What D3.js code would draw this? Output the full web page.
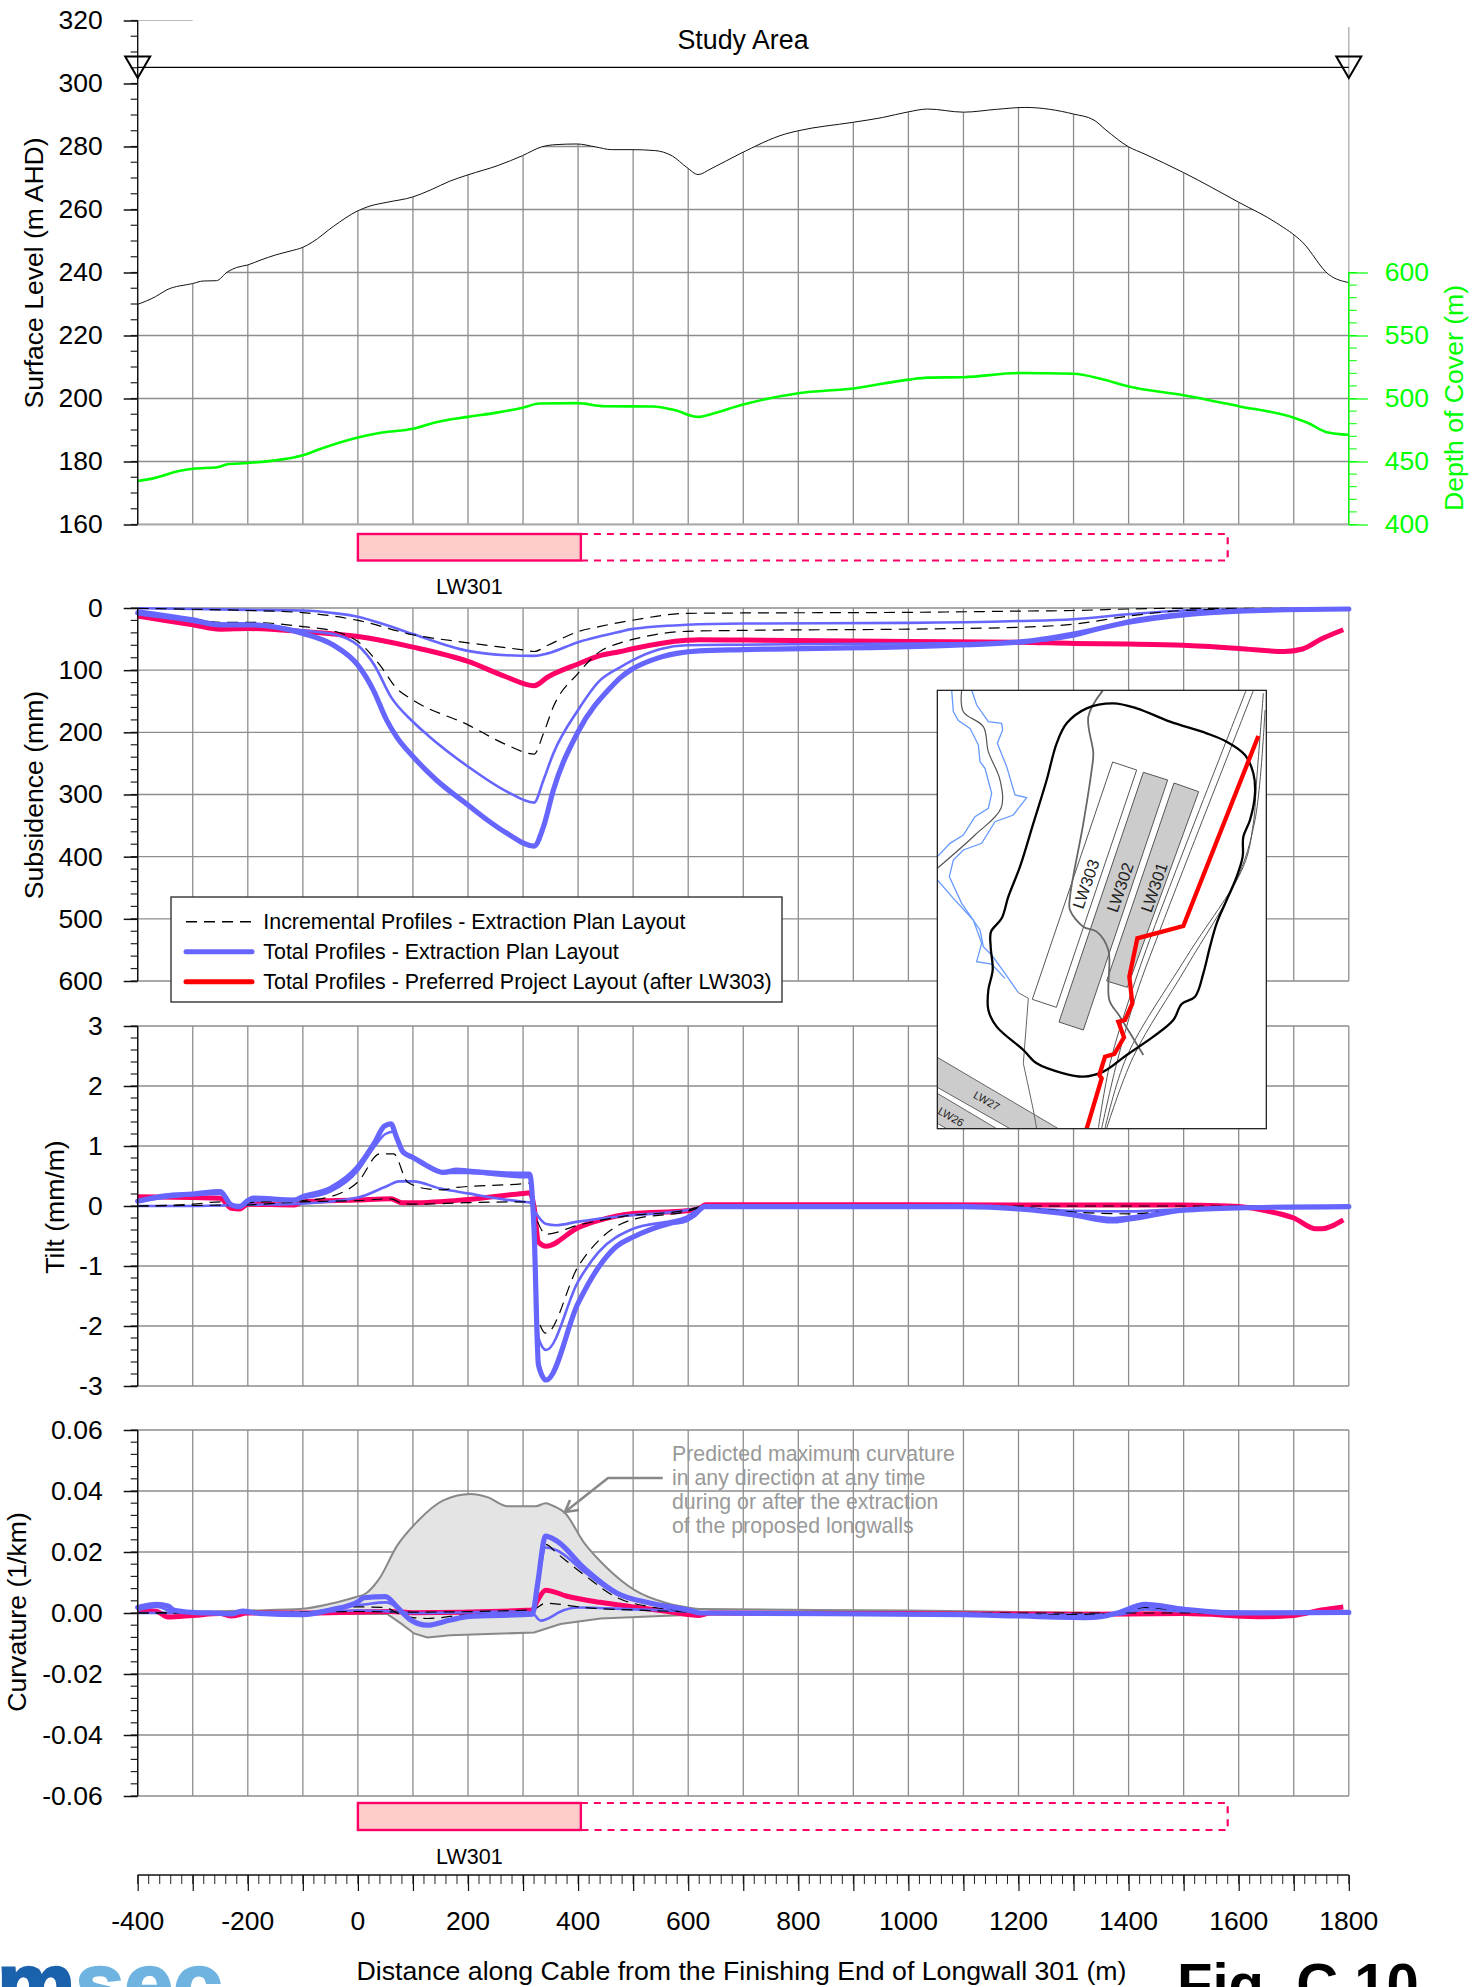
<!DOCTYPE html>
<html><head><meta charset="utf-8">
<script src="https://cdn.jsdelivr.net/npm/d3@7/dist/d3.min.js"></script>
<style>html,body{margin:0;padding:0;background:#fff;overflow:hidden}svg{display:block}text{font-family:"Liberation Sans",Arial,sans-serif}</style>
</head><body><svg id="c" width="1484" height="1987"></svg>
<script>
// ---------- Tick values ----------
const distanceTicks=[-400,-300,-200,-100,0,100,200,300,400,500,600,700,800,900,1000,1100,1200,1300,1400,1500,1600,1700,1800];
const distanceLabels=[-400,-200,0,200,400,600,800,1000,1200,1400,1600,1800];
const levelTicks=[160,180,200,220,240,260,280,300,320];
const coverTicks=[400,450,500,550,600];
const subsidenceTicks=[0,100,200,300,400,500,600];
const tiltTicks=[-3,-2,-1,0,1,2,3];
const curvatureTicks=[-0.06,-0.04,-0.02,0,0.02,0.04,0.06];
const legendLabels=["Incremental Profiles - Extraction Plan Layout","Total Profiles - Extraction Plan Layout","Total Profiles - Preferred Project Layout (after LW303)"];
const noteLines=["Predicted maximum curvature","in any direction at any time","during or after the extraction","of the proposed longwalls"];

// ---------- Surface panel ----------
const surfaceLevel=[[-400,229.9],[-368,232.3],[-347,234.5],[-300,236.5],[-281,237.3],[-257,237.4],[-237,240.2],[-220,241.6],[-200,242.4],[-176,244],[-149,245.6],[-123,246.8],[-100,248],[-83,249.6],[-44,254.7],[0,259.6],[22,261.1],[53,262.3],[100,264],[132,266.2],[167,269],[200,271],[255,274],[299,277.1],[334,279.9],[360,280.6],[398,280.8],[431,279.9],[461,279],[498,279],[540,278.7],[571,277],[598,273.3],[618,271.1],[641,272.9],[694,277.7],[777,284],[800,285],[900,287.7],[953,289.2],[1000,291],[1035,291.9],[1100,290.9],[1160,291.8],[1212,292.4],[1300,290.3],[1337,288.4],[1359,285.2],[1400,279.9],[1428,277.7],[1500,271.7],[1600,262.3],[1669,255.7],[1716,249.6],[1764,239.3],[1800,236.8]];
const depthOfCover=[[-400,434.5],[-368,437],[-325,442.4],[-300,444.2],[-255,445.4],[-237,447.8],[-200,448.8],[-100,455],[-70,459.7],[0,469],[44,473],[100,476],[140,481],[200,485.4],[255,489],[299,492.7],[330,496],[398,496.3],[448,493.9],[536,493.6],[575,490.8],[618,485.4],[641,487.5],[698,495],[800,504.2],[900,508],[1000,515],[1035,516.6],[1100,516.9],[1200,520.2],[1300,519.6],[1349,515.7],[1400,509.6],[1500,502.6],[1600,493.9],[1700,484.8],[1725,480.8],[1760,473.3],[1800,471.2]];
const panelLW301=[0,405];
const panelLW301Planned=[405,1580];

// ---------- Subsidence (mm) ----------
const subIncShallow=[[-400,0.5],[-300,2],[-200,4],[-100,7.5],[0,20],[100,43],[200,56],[300,67.5],[320,70],[345,60],[400,38],[438,30],[477,23],[497,20],[597,8.6],[700,8],[1000,7],[1200,5],[1300,4],[1400,1.6],[1500,0.5],[1800,0.5]];
const subIncDeep=[[-400,7.5],[-300,18],[-250,23],[-200,23],[-100,30],[-40,38],[0,54],[40,92],[70,129],[100,148],[200,188],[270,220],[320,235],[337,202],[355,159],[400,105],[438,71],[477,56],[497,51],[597,37.5],[700,36],[1000,34],[1200,31],[1300,26],[1400,13],[1500,4],[1600,2],[1800,1]];
const subTotalStage1=[[-400,0.5],[-300,1.5],[-200,3],[-100,4],[-40,8.6],[0,14],[50,27],[100,42],[200,69],[270,76],[320,77],[345,73],[400,55],[438,46],[477,38],[497,34],[597,27],[700,25],[1000,24],[1200,21],[1300,18],[1400,10],[1500,4],[1600,2.5],[1800,1.6]];
const subTotalStage2=[[-400,4],[-300,17],[-250,25],[-200,25],[-100,36],[-40,43],[0,60],[30,92],[60,143],[100,183],[130,207],[200,255],[270,295],[320,313],[337,277],[355,234],[400,164],[438,118],[477,95],[497,85],[550,66],[597,60],[700,59],[1000,57],[1200,55],[1300,46],[1400,20],[1500,8.6],[1600,4],[1800,1.6]];
const subTotalFinal=[[-400,8],[-300,20],[-250,27],[-200,27],[-100,41],[-44,60],[0,92],[28,132],[52,180],[70,207],[100,239],[143,277],[200,317],[235,341],[270,362],[320,383],[337,352],[355,293],[400,199],[460,127],[477,112],[497,99],[550,79],[620,69],[700,67],[1000,62],[1200,55],[1300,42],[1400,23],[1500,11],[1600,5],[1800,1.6]];
const subPreferred=[[-400,13],[-300,27],[-250,34],[-200,33],[-100,38],[0,46],[100,63],[200,86],[270,111],[320,125],[345,111],[400,90],[438,77],[477,70],[497,66],[597,52],[620,51],[700,51.5],[1000,54],[1200,55],[1300,57],[1400,58],[1500,60],[1600,65],[1683,70],[1716,66],[1750,50],[1790,35]];

// ---------- Tilt (mm/m) ----------
const tiltIncShallow=[[-400,0],[-300,0.01],[-200,0.02],[-100,0.07],[0,0.09],[60,0.12],[80,0.045],[100,0.03],[200,0.055],[300,0.07],[312,0.07],[320,-0.12],[342,-0.47],[400,-0.32],[477,-0.18],[597,-0.07],[632,0],[1100,0],[1200,0],[1800,0]];
const tiltIncDeep=[[-400,0],[-300,0.03],[-250,0.07],[-230,-0.01],[-215,-0.03],[-200,0.055],[-100,0.09],[-50,0.155],[0,0.4],[40,0.87],[65,0.87],[90,0.4],[130,0.28],[155,0.27],[180,0.31],[300,0.37],[312,0.38],[320,-0.12],[328,-1.9],[342,-2.12],[400,-1.01],[438,-0.57],[497,-0.23],[597,-0.09],[620,-0.03],[632,0],[1100,-0.01],[1200,-0.02],[1300,-0.1],[1400,-0.13],[1500,-0.06],[1600,-0.02],[1800,-0.01]];
const tiltTotalStage1=[[-400,0],[-300,0],[-200,0.02],[-100,0.04],[0,0.14],[50,0.32],[75,0.41],[100,0.41],[150,0.29],[200,0.21],[300,0.07],[312,0.06],[320,-0.07],[342,-0.3],[360,-0.32],[400,-0.26],[477,-0.17],[597,-0.07],[620,-0.03],[632,0],[1100,-0.01],[1200,-0.03],[1300,-0.08],[1400,-0.09],[1500,-0.05],[1600,-0.03],[1800,-0.01]];
const tiltTotalStage2=[[-400,0.08],[-300,0.18],[-250,0.2],[-230,0],[-215,-0.02],[-200,0.07],[-100,0.13],[-50,0.24],[0,0.59],[30,0.99],[50,1.2],[65,1.24],[82,0.9],[100,0.8],[155,0.55],[200,0.55],[300,0.48],[312,0.48],[320,-0.3],[328,-2.2],[342,-2.4],[400,-1.26],[438,-0.76],[497,-0.39],[597,-0.18],[611,-0.1],[630,-0.01],[1100,-0.01],[1200,-0.04],[1300,-0.12],[1370,-0.2],[1400,-0.18],[1500,-0.06],[1600,-0.03],[1800,-0.01]];
const tiltTotalFinal=[[-400,0.08],[-350,0.17],[-300,0.2],[-250,0.24],[-230,0.02],[-215,-0.01],[-200,0.09],[-190,0.13],[-115,0.1],[-100,0.155],[-50,0.29],[0,0.65],[30,1.05],[48,1.33],[60,1.37],[70,1.15],[82,0.9],[100,0.81],[130,0.65],[155,0.56],[180,0.6],[200,0.58],[300,0.53],[312,0.53],[320,-0.4],[328,-2.65],[342,-2.9],[400,-1.62],[438,-1.01],[469,-0.68],[497,-0.53],[566,-0.29],[597,-0.23],[611,-0.15],[630,-0.01],[1100,-0.01],[1200,-0.05],[1300,-0.15],[1370,-0.25],[1400,-0.22],[1500,-0.07],[1600,-0.03],[1800,-0.01]];
const tiltPreferred=[[-400,0.155],[-300,0.14],[-250,0.13],[-230,-0.04],[-215,-0.05],[-200,0.03],[-115,0.017],[-100,0.07],[0,0.1],[60,0.12],[80,0.055],[100,0.055],[200,0.11],[300,0.21],[312,0.22],[320,-0.01],[328,-0.6],[342,-0.67],[400,-0.36],[438,-0.24],[497,-0.13],[597,-0.08],[620,-0.04],[632,0.02],[1000,0.02],[1500,0.015],[1550,0.01],[1600,-0.01],[1650,-0.08],[1700,-0.2],[1740,-0.38],[1750,-0.38],[1790,-0.23]];

// ---------- Curvature (1/km) ----------
const envelopeUpper=[[-400,0],[-300,0.0003],[-200,0.0008],[-100,0.0014],[-50,0.003],[0,0.0054],[11,0.006],[38,0.011],[71,0.022],[108,0.03],[156,0.037],[205,0.039],[235,0.038],[272,0.035],[323,0.035],[341,0.036],[356,0.035],[375,0.033],[411,0.023],[453,0.0147],[502,0.0076],[562,0.0032],[600,0.0018],[623,0.0013],[1000,0.0008],[1200,0.0003],[1350,0]];
const envelopeLower=[[-400,0],[-104,-0.0003],[53,-0.0003],[78,-0.0034],[102,-0.0067],[126,-0.008],[168,-0.0073],[320,-0.0064],[368,-0.0036],[441,-0.0018],[562,-0.0009],[623,-0.0005],[1350,0]];
const curvIncShallow=[[-400,0],[-100,0.0002],[0,0.0005],[100,0.0003],[317,0.001],[341,0.0032],[411,0.0018],[532,0.0008],[700,0],[1800,0]];
const curvIncDeep=[[-400,0],[-100,0.0002],[0,0.002],[50,0.0018],[71,0],[100,-0.0015],[126,-0.0018],[200,-0.0005],[317,0],[326,0.006],[341,0.0225],[362,0.0195],[411,0.0125],[471,0.005],[532,0.002],[600,0.0006],[623,0],[1300,-0.0005],[1380,0],[1430,0.0018],[1500,0.0008],[1800,0]];
const curvTotalStage1=[[-400,0],[-100,0.0002],[0,0.0008],[50,0.0006],[100,0],[300,0.0005],[317,0],[332,-0.0025],[375,0.001],[399,0.0018],[500,0.0012],[600,0.0005],[623,0],[1300,-0.0005],[1380,-0.0005],[1430,0.0012],[1500,0.0005],[1800,0]];
const curvTotalStage2=[[-400,0.001],[-365,0.002],[-335,0.0005],[-200,0],[-104,0],[-44,0.0015],[11,0.0028],[50,0.0035],[71,0.002],[96,-0.002],[126,-0.0038],[199,-0.0012],[317,-0.0004],[326,0.008],[341,0.0215],[362,0.0205],[411,0.0135],[471,0.006],[532,0.003],[600,0.001],[623,0],[1300,-0.001],[1350,-0.001],[1380,0],[1430,0.002],[1500,0.001],[1800,0]];
const curvTotalFinal=[[-400,0.0018],[-365,0.0028],[-345,0.0023],[-335,0.001],[-300,0.0002],[-250,-0.0001],[-230,-0.0003],[-210,0.0006],[-180,-0.0001],[-100,-0.0005],[-50,0.001],[0,0.0037],[11,0.005],[50,0.0054],[71,0.002],[96,-0.0023],[126,-0.004],[168,-0.0023],[199,-0.0012],[317,-0.0004],[326,0.009],[341,0.0252],[362,0.0235],[411,0.0147],[471,0.0065],[532,0.0032],[600,0.001],[623,0],[1100,-0.0005],[1320,-0.0015],[1350,-0.0012],[1380,0],[1430,0.0028],[1500,0.0012],[1600,0],[1800,0.0002]];
const curvPreferred=[[-400,0.001],[-365,0.0005],[-345,-0.0013],[-300,-0.0008],[-250,-0.0002],[-230,-0.001],[-200,0],[-100,0],[0,0.0003],[60,0.0005],[100,0.0001],[317,0.001],[326,0.004],[341,0.0075],[380,0.0055],[440,0.0035],[500,0.002],[560,0.0006],[600,-0.0005],[620,-0.0008],[640,0],[1000,-0.0002],[1300,-0.0004],[1500,-0.0002],[1650,-0.0012],[1700,-0.0008],[1750,0.001],[1790,0.002]];

// ---------- Location map (map units) ----------
const mapBoundary=[[580,70],[650,85],[750,125],[860,160],[920,185],[975,225],[1000,280],[1005,340],[990,420],[970,470],[968,530],[950,590],[920,660],[890,730],[870,800],[850,880],[825,950],[785,972],[760,1020],[700,1070],[620,1125],[550,1175],[490,1190],[430,1180],[350,1150],[310,1110],[230,1040],[205,990],[205,930],[218,870],[212,800],[213,755],[245,715],[265,650],[300,560],[340,430],[380,300],[410,190],[440,130],[500,85]];
const mapRiverA=[[95,30],[100,95],[115,122],[150,145],[175,195],[180,245],[195,265],[215,340],[205,385],[165,410],[130,465],[90,490],[52,530]];
const mapRiverB=[[155,30],[170,75],[205,125],[245,130],[248,150],[232,190],[260,260],[285,345],[320,353],[280,405],[225,425],[185,490],[130,510],[100,540],[88,590],[125,670],[180,750],[190,800],[215,825],[255,880],[295,938]];
const mapRiverC=[[52,600],[100,655],[160,720],[185,790],[170,845],[215,852],[255,895]];
const mapCreek=[[125,30],[130,95],[190,140],[205,215],[240,300],[243,385],[165,465],[52,565]];
const mapStream=[[295,938],[325,955],[320,1020],[310,1150],[340,1290],[350,1346]];
const mapRoad=[[548,32],[505,110],[520,220],[515,270],[490,430],[450,650],[450,690],[490,740],[530,755],[565,810],[568,960],[600,1010],[670,1125]];
const mapRailA=[[978,32],[700,750],[630,950],[570,1150],[535,1345]];
const mapRailB=[[1000,32],[720,750],[650,940],[590,1150],[545,1345]];
const mapRailC=[[1035,90],[1005,420],[950,600],[800,860],[640,1130],[560,1345]];
const mapRailD=[[1030,40],[1010,300],[1000,430],[970,560],[800,830],[620,1130],[555,1345]];
const mapLW303=[[578,246],[650,270],[409,982],[337,958]];
const mapLW302=[[670,277],[743,300],[490,1050],[417,1026]];
const mapLW301=[[762,309],[836,335],[622,922],[560,903]];
const mapLW27=[[52,1132],[415,1346],[270,1346],[52,1222]];
const mapLW26=[[52,1240],[230,1346],[80,1346],[52,1330]];
const mapCable=[[1015,168],[790,738],[652,775],[628,890],[637,970],[615,1020],[595,1025],[612,1072],[583,1122],[555,1130],[538,1185],[545,1195],[500,1346]];
const mapLabels=[["LW303",497,612,-71,16.5],["LW302",600,622,-71,16.5],["LW301",702,622,-71,16.5],["LW27",200,1262,30,11],["LW26",93,1310,30,11]];

// ---------- Drawing ----------
const svg=d3.select("#c");
const GRID="#8d8d8d",BLUE="#6666ff",PINK="#ff0066";
const x=d3.scaleLinear().domain([-400,1800]).range([137.7,1348.8]);
const yLevel=d3.scaleLinear().domain([160,320]).range([524.5,20.5]);
const yCover=d3.scaleLinear().domain([400,600]).range([524.5,272.5]);
const ySub=d3.scaleLinear().domain([0,600]).range([608,981]);
const yTilt=d3.scaleLinear().domain([-3,3]).range([1386,1026]);
const yCurv=d3.scaleLinear().domain([-0.06,0.06]).range([1796,1430]);
const fs=26.5;
const hyphen=f=>d=>f(d).replace("\u2212","-");

function leftAxis(y,ticks,minorStep,fmt,grid){
  const [a,b]=d3.extent(y.domain());
  const minors=d3.range(a,b+minorStep/2,minorStep);
  const g=svg.append("g");
  if(grid!==false){
    g.append("g").selectAll("line").data(ticks).join("line").attr("x1",x(-400)).attr("x2",x(1800)).attr("y1",y).attr("y2",y).attr("stroke",GRID).attr("stroke-width",1.3);
    g.append("g").selectAll("line").data(distanceTicks).join("line").attr("x1",x).attr("x2",x).attr("y1",y.range()[0]).attr("y2",y.range()[1]).attr("stroke",GRID).attr("stroke-width",1.3);
  }
  return {minors,draw(){
    const t=svg.append("g");
    t.append("g").selectAll("line").data(minors).join("line").attr("x1",x(-400)-7).attr("x2",x(-400)).attr("y1",y).attr("y2",y).attr("stroke","#222").attr("stroke-width",1.2);
    const ax=d3.axisLeft(y).tickValues(ticks).tickSize(14).tickPadding(20).tickFormat(fmt);
    const ag=t.append("g").attr("transform",`translate(${x(-400)},0)`).call(ax);
    ag.selectAll("path").attr("stroke","#111").attr("stroke-width",1.4).attr("d",`M0,${y.range()[0]}V${y.range()[1]}`);
    ag.selectAll("line").attr("stroke","#111").attr("stroke-width",1.5);
    ag.selectAll("text").attr("font-size",fs).attr("font-family","Liberation Sans").attr("fill","#000").attr("x",-35);
  }};
}
const line=(y)=>d3.line().x(d=>x(d[0])).y(d=>y(d[1])).curve(d3.curveMonotoneX);
function seriesSet(y,s){
  const L=line(y);
  svg.append("path").attr("d",L(s.red)).attr("fill","none").attr("stroke",PINK).attr("stroke-width",5).attr("stroke-linejoin","round");
  [s.t1,s.t2].forEach(d=>svg.append("path").attr("d",L(d)).attr("fill","none").attr("stroke",BLUE).attr("stroke-width",2.6));
  [s.i1,s.i2].forEach(d=>svg.append("path").attr("d",L(d)).attr("fill","none").attr("stroke","#000").attr("stroke-width",1.2).attr("stroke-dasharray","11,7"));
  svg.append("path").attr("d",L(s.t3)).attr("fill","none").attr("stroke",BLUE).attr("stroke-width",5.2).attr("stroke-linejoin","round").attr("stroke-linecap","round");
}
function label(t,xp,yp,o={}){
  const e=svg.append("text").attr("x",xp).attr("y",yp).attr("font-size",o.size||fs).attr("text-anchor",o.anchor||"middle").attr("dominant-baseline",o.base||"central").attr("fill",o.fill||"#000").attr("font-weight",o.weight||"normal").text(t);
  if(o.rot!=null)e.attr("transform",`rotate(${o.rot},${xp},${yp})`);
  return e;
}
function panelBar(yTop,yBottom,labelY){
  const x0=x(panelLW301[0]),x1=x(panelLW301[1]),x2=x(panelLW301Planned[1]);
  svg.append("rect").attr("x",x0).attr("y",yTop).attr("width",x1-x0).attr("height",yBottom-yTop).attr("fill","#ffcccc").attr("stroke",PINK).attr("stroke-width",2.4);
  svg.append("path").attr("d",`M${x1},${yTop}H${x2}V${yBottom}H${x1}`).attr("fill","none").attr("stroke",PINK).attr("stroke-width",2.2).attr("stroke-dasharray","7,6");
  label("LW301",(x0+x1)/2,labelY,{size:21.5});
}

// top panel: grid only below the surface line
const clipArea=d3.area().x(d=>x(d[0])).y0(524.5).y1(d=>yLevel(d[1])).curve(d3.curveMonotoneX);
svg.append("clipPath").attr("id","under").append("path").attr("d",clipArea(surfaceLevel));
const gTop=svg.append("g").attr("clip-path","url(#under)");
gTop.selectAll("line.h").data(levelTicks).join("line").attr("class","h").attr("x1",x(-400)).attr("x2",x(1800)).attr("y1",yLevel).attr("y2",yLevel).attr("stroke",GRID).attr("stroke-width",1.3);
gTop.selectAll("line.v").data(distanceTicks).join("line").attr("class","v").attr("x1",x).attr("x2",x).attr("y1",yLevel(160)).attr("y2",yLevel(320)).attr("stroke",GRID).attr("stroke-width",1.3);
svg.append("line").attr("x1",x(-400)).attr("x2",x(-300)).attr("y1",yLevel(320)).attr("y2",yLevel(320)).attr("stroke","#bbb").attr("stroke-width",1);
svg.append("line").attr("x1",x(1800)).attr("x2",x(1800)).attr("y1",27).attr("y2",yLevel(160)).attr("stroke","#aaa").attr("stroke-width",1.3);
svg.append("line").attr("x1",x(-400)).attr("x2",x(1800)).attr("y1",yLevel(160)).attr("y2",yLevel(160)).attr("stroke","#aaa").attr("stroke-width",2);
const axTop=leftAxis(yLevel,levelTicks,5,d3.format("d"),false);
svg.append("path").attr("d",line(yLevel)(surfaceLevel)).attr("fill","none").attr("stroke","#111").attr("stroke-width",1);
svg.append("path").attr("d",line(yCover)(depthOfCover)).attr("fill","none").attr("stroke","#00ff00").attr("stroke-width",2.6);
axTop.draw();

// right green axis
const gr=svg.append("g");
gr.selectAll("line.m").data(d3.range(400,601,10)).join("line").attr("x1",x(1800)).attr("x2",x(1800)+8).attr("y1",yCover).attr("y2",yCover).attr("stroke","#00ff00").attr("stroke-width",1);
const axR=gr.append("g").attr("transform",`translate(${x(1800)},0)`).call(d3.axisRight(yCover).tickValues(coverTicks).tickSize(19).tickPadding(17).tickFormat(d3.format("d")));
axR.selectAll("path").attr("stroke","#00ff00").attr("stroke-width",1.4).attr("d",`M0,${yCover(400)}V${yCover(600)}`);
axR.selectAll("line").attr("stroke","#00ff00").attr("stroke-width",1.2);
axR.selectAll("text").attr("font-size",fs).attr("font-family","Liberation Sans").attr("fill","#00ff00");

// study area markers
svg.append("line").attr("x1",x(-400)).attr("x2",x(1800)).attr("y1",67.4).attr("y2",67.4).attr("stroke","#000").attr("stroke-width",1.4);
[-400,1800].forEach(v=>svg.append("path").attr("d",d3.line()([[x(v)-12.5,56.5],[x(v)+12.5,56.5],[x(v),78]])+"Z").attr("fill","none").attr("stroke","#000").attr("stroke-width",2));
label("Study Area",743,40,{size:26.8});
panelBar(534,560.5,587);

// subsidence
const axSub=leftAxis(ySub,subsidenceTicks,20,d3.format("d"));
seriesSet(ySub,{red:subPreferred,t1:subTotalStage1,t2:subTotalStage2,t3:subTotalFinal,i1:subIncShallow,i2:subIncDeep});
axSub.draw();
// tilt
const axTilt=leftAxis(yTilt,tiltTicks,0.2,hyphen(d3.format("d")));
seriesSet(yTilt,{red:tiltPreferred,t1:tiltTotalStage1,t2:tiltTotalStage2,t3:tiltTotalFinal,i1:tiltIncShallow,i2:tiltIncDeep});
axTilt.draw();
// curvature
const axCurv=leftAxis(yCurv,curvatureTicks,0.004,hyphen(d3.format(".2f")));
svg.append("path").attr("d",d3.line().x(d=>x(d[0])).y(d=>yCurv(d[1])).curve(d3.curveMonotoneX)(envelopeUpper)+"L"+d3.line().x(d=>x(d[0])).y(d=>yCurv(d[1]))(envelopeLower.slice().reverse()).slice(1)+"Z").attr("fill","#e4e4e4").attr("stroke","#888").attr("stroke-width",2);
seriesSet(yCurv,{red:curvPreferred,t1:curvTotalStage1,t2:curvTotalStage2,t3:curvTotalFinal,i1:curvIncShallow,i2:curvIncDeep});
axCurv.draw();
panelBar(1803,1830,1857);

// note and leader
noteLines.forEach((t,i)=>label(t,672,1454+i*24,{size:21.3,anchor:"start",fill:"#999"}));
svg.append("path").attr("d","M662.7,1478H608L565,1512").attr("fill","none").attr("stroke","#888").attr("stroke-width",2.6);
svg.append("path").attr("d","M570,1500L565,1512L579,1510").attr("fill","none").attr("stroke","#888").attr("stroke-width",2.6);

// axis titles
label("Surface Level (m AHD)",34,273,{rot:-90,size:26.5});
label("Depth of Cover (m)",1454,398,{rot:-90,fill:"#00ff00",size:26.6});
label("Subsidence (mm)",34,795,{rot:-90,size:26.6});
label("Tilt (mm/m)",55,1207,{rot:-90,size:26.6});
label("Curvature (1/km)",17,1612,{rot:-90,size:26.6});

// bottom axis
const botMinor=d3.range(-400,1801,20);
svg.append("g").selectAll("line").data(botMinor).join("line").attr("x1",x).attr("x2",x).attr("y1",1875).attr("y2",1884).attr("stroke","#222").attr("stroke-width",1);
const axB=svg.append("g").attr("transform","translate(0,1875)").call(d3.axisBottom(x).tickValues(distanceTicks).tickSize(16).tickFormat(""));
axB.select("path").attr("stroke","#111").attr("stroke-width",1.5).attr("d",`M${x(-400)},0H${x(1800)}`);
axB.selectAll("line").attr("stroke","#111").attr("stroke-width",1.2);
svg.append("g").selectAll("text").data(distanceLabels).join("text").attr("x",x).attr("y",1921).attr("text-anchor","middle").attr("dominant-baseline","central").attr("font-size",fs).text(d=>d);
label("Distance along Cable from the Finishing End of Longwall 301 (m)",741.5,1971,{size:26.7});

// legend
svg.append("rect").attr("x",171).attr("y",897).attr("width",611).attr("height",105).attr("fill","#fff").attr("stroke","#333").attr("stroke-width",1.4);
const legY=[921.7,951.7,981.7];
const legStyle=[["#000",1.6,"11,7","butt"],[BLUE,5,null,"round"],["#ff0000",5,null,"round"]];
legendLabels.forEach((t,i)=>{
  svg.append("line").attr("x1",186).attr("x2",252).attr("y1",legY[i]).attr("y2",legY[i]).attr("stroke",legStyle[i][0]).attr("stroke-width",legStyle[i][1]).attr("stroke-dasharray",legStyle[i][2]).attr("stroke-linecap",legStyle[i][3]);
  label(t,263.3,legY[i],{size:21.4,anchor:"start"});
});

// location map
const mx=d3.scaleLinear().domain([0,1080]).range([920,1280]);
const my=d3.scaleLinear().domain([0,1380]).range([680,1140]);
const mL=d3.line().x(d=>mx(d[0])).y(d=>my(d[1]));
const mC=d3.line().x(d=>mx(d[0])).y(d=>my(d[1])).curve(d3.curveCatmullRom);
const mapLeft=mx(52),mapRight=mx(1039),mapTop=my(31),mapBot=my(1346);
svg.append("rect").attr("x",mapLeft).attr("y",mapTop).attr("width",mapRight-mapLeft).attr("height",mapBot-mapTop).attr("fill","#fff");
svg.append("clipPath").attr("id","mapClip").append("rect").attr("x",mapLeft).attr("y",mapTop).attr("width",mapRight-mapLeft).attr("height",mapBot-mapTop);
const gm=svg.append("g").attr("clip-path","url(#mapClip)");
[mapLW27,mapLW26].forEach(p=>gm.append("path").attr("d",mL(p)+"Z").attr("fill","#cccccc").attr("stroke","#444").attr("stroke-width",.8));
gm.append("path").attr("d",mL(mapLW303)+"Z").attr("fill","#fff").attr("stroke","#555").attr("stroke-width",1);
[mapLW302,mapLW301].forEach(p=>gm.append("path").attr("d",mL(p)+"Z").attr("fill","#cccccc").attr("stroke","#555").attr("stroke-width",1));
[mapRailA,mapRailB,mapRailC,mapRailD].forEach(p=>gm.append("path").attr("d",mC(p)).attr("fill","none").attr("stroke","#555").attr("stroke-width",1));
[mapRiverA,mapRiverB,mapRiverC].forEach(p=>gm.append("path").attr("d",mL(p)).attr("fill","none").attr("stroke","#6699ff").attr("stroke-width",1.3));
gm.append("path").attr("d",mC(mapCreek)).attr("fill","none").attr("stroke","#555").attr("stroke-width",1.2);
gm.append("path").attr("d",mL(mapStream)).attr("fill","none").attr("stroke","#666").attr("stroke-width",1);
gm.append("path").attr("d",mC(mapRoad)).attr("fill","none").attr("stroke","#666").attr("stroke-width",1.8);
gm.append("path").attr("d",d3.line().x(d=>mx(d[0])).y(d=>my(d[1])).curve(d3.curveCatmullRomClosed)(mapBoundary)).attr("fill","none").attr("stroke","#000").attr("stroke-width",2.3);
gm.append("path").attr("d",mL(mapCable)).attr("fill","none").attr("stroke","#ff0000").attr("stroke-width",4.3);
mapLabels.forEach(d=>gm.append("text").attr("x",mx(d[1])).attr("y",my(d[2])).attr("font-size",d[4]).attr("text-anchor","middle").attr("dominant-baseline","central").attr("transform",`rotate(${d[3]},${mx(d[1])},${my(d[2])})`).attr("fill","#222").text(d[0]));
svg.append("rect").attr("x",mapLeft).attr("y",mapTop).attr("width",mapRight-mapLeft).attr("height",mapBot-mapTop).attr("fill","none").attr("stroke","#222").attr("stroke-width",1.3);

// footer
const logo=svg.append("text").attr("x",-3).attr("y",2014).attr("font-size",88).attr("font-weight","bold").attr("stroke-width",2.5);
logo.append("tspan").attr("fill","#1a62ac").attr("stroke","#1a62ac").text("m");
logo.append("tspan").attr("fill","#6fb4e1").attr("stroke","#6fb4e1").text("sec");
svg.append("text").attr("x",1177).attr("y",2004).attr("font-size",58).attr("font-weight","bold").text("Fig. C.10");
</script></body></html>
